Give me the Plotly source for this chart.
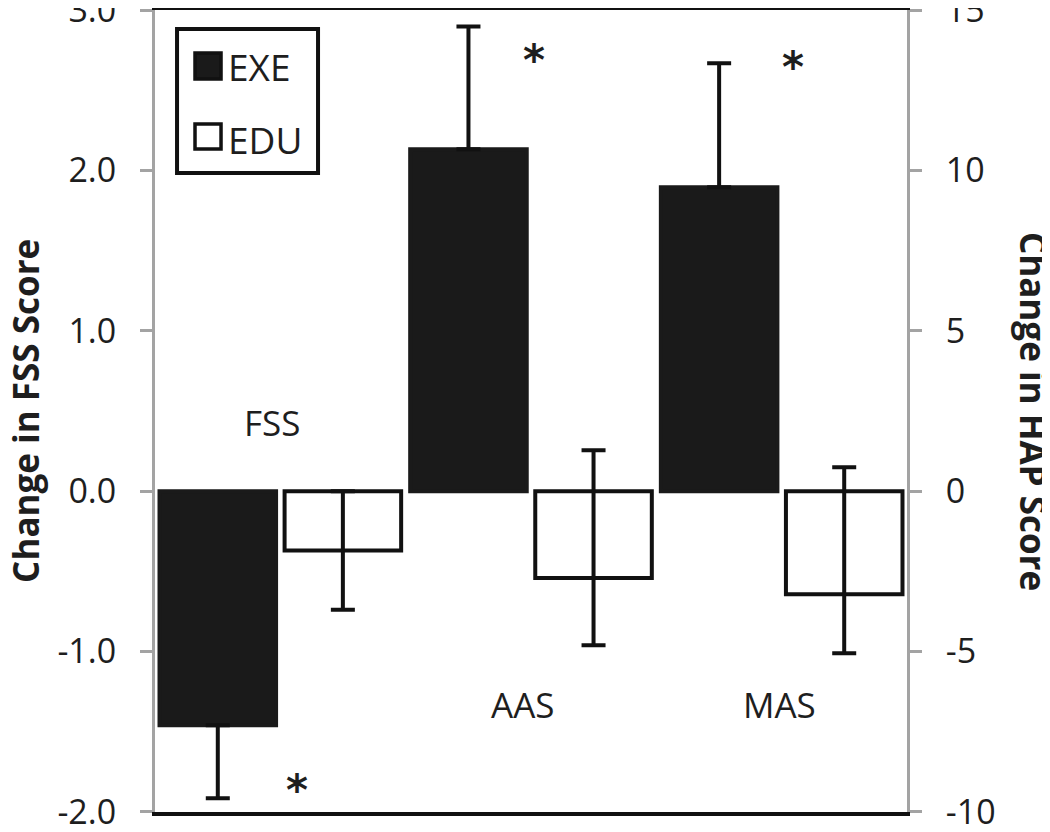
import plotly.graph_objects as go

# ---- data ----
categories = ["FSS", "AAS", "MAS"]
groups = ["EXE", "EDU"]

# FSS (left axis, Change in FSS Score)
fss_cat = ["FSS"]
fss_exe = [-1.46]
fss_exe_err_minus = [0.455]
fss_edu = [-0.37]
fss_edu_err = [0.37]

# HAP subscales (right axis, Change in HAP Score)
hap_cat = ["AAS", "MAS"]
hap_exe = [10.66, 9.48]
hap_exe_err_plus = [3.83, 3.86]
hap_edu = [-2.71, -3.21]
hap_edu_err_plus = [3.99, 3.96]
hap_edu_err_minus = [2.09, 1.84]

left_ticks = [-2, -1, 0, 1, 2, 3]
left_ticktext = ["-2.0", "-1.0", "0.0", "1.0", "2.0", "3.0"]
right_ticks = [-10, -5, 0, 5, 10, 15]
right_ticktext = ["-10", "-5", "0", "5", "10", "15"]

# ---- styling ----
EXE_FILL = "#1a1a1a"
EDU_FILL = "#ffffff"
EDGE = "#111111"
GREY = "#a3a3a3"
TXT = "#1e1e1e"
BAR_W = 0.465
OFF_EXE = -0.482
OFF_EDU = 0.017

fig = go.Figure()

def err(arr=None, arrminus=None, sym=False):
    d = dict(type="data", visible=True, color=EDGE, thickness=4, width=12)
    if sym:
        d.update(array=arr, symmetric=True)
    else:
        d.update(symmetric=False, array=arr if arr is not None else [0] * len(arrminus),
                 arrayminus=arrminus if arrminus is not None else [0] * len(arr))
    return d

fig.add_trace(go.Bar(x=fss_cat, y=fss_exe, yaxis="y", width=BAR_W, offset=OFF_EXE,
                     marker=dict(color=EXE_FILL, line=dict(color=EXE_FILL, width=4)),
                     error_y=err(arr=[0], arrminus=fss_exe_err_minus), showlegend=False, name="EXE"))
fig.add_trace(go.Bar(x=fss_cat, y=fss_edu, yaxis="y", width=BAR_W, offset=OFF_EDU,
                     marker=dict(color=EDU_FILL, line=dict(color=EDGE, width=4)),
                     error_y=err(arr=fss_edu_err, sym=True), showlegend=False, name="EDU"))
fig.add_trace(go.Bar(x=hap_cat, y=hap_exe, yaxis="y2", width=BAR_W, offset=OFF_EXE,
                     marker=dict(color=EXE_FILL, line=dict(color=EXE_FILL, width=4)),
                     error_y=err(arr=hap_exe_err_plus, arrminus=[0, 0]), showlegend=False, name="EXE"))
fig.add_trace(go.Bar(x=hap_cat, y=hap_edu, yaxis="y2", width=BAR_W, offset=OFF_EDU,
                     marker=dict(color=EDU_FILL, line=dict(color=EDGE, width=4)),
                     error_y=err(arr=hap_edu_err_plus, arrminus=hap_edu_err_minus), showlegend=False, name="EDU"))

# ---- legend box (drawn to match the large swatches of the reference) ----
fig.add_shape(type="rect", xref="paper", yref="paper", x0=0.0293, x1=0.2168, y0=0.7968, y1=0.9763,
              line=dict(color=EDGE, width=4), fillcolor="white", layer="above")
legend_rows = [(groups[0], EXE_FILL, 0.9140, 0.9464, 0.9277),
               (groups[1], EDU_FILL, 0.8267, 0.8579, 0.8379)]
for name, fill, sy0, sy1, ty in legend_rows:
    fig.add_shape(type="rect", xref="paper", yref="paper", x0=0.0532, x1=0.0878, y0=sy0, y1=sy1,
                  line=dict(color=EDGE, width=3.5), fillcolor=fill, layer="above")
    fig.add_annotation(x=0.0997, y=ty, xref="paper", yref="paper", text=name, showarrow=False,
                       xanchor="left", yanchor="middle", xshift=-4, yshift=1,
                       font=dict(family="Open Sans, sans-serif", size=37, color=TXT))

label_font = dict(family="Open Sans, sans-serif", size=35, color=TXT)
annos = [
    dict(x="FSS", y=0.41, yref="y", text="FSS", xshift=-8, yshift=3),
    dict(x="AAS", y=-6.73, yref="y2", text="AAS", xshift=-9, yshift=3),
    dict(x="MAS", y=-6.73, yref="y2", text="MAS", xshift=-2, yshift=3),
]
for a in annos:
    fig.add_annotation(xref="x", showarrow=False, font=label_font, **a)

star_font = dict(family="DejaVu Sans, sans-serif", size=42, color=TXT)
for x, y, yref in [(0.066, -1.833, "y"), (1.012, 13.59, "y2"), (2.045, 13.38, "y2")]:
    fig.add_annotation(x=x, y=y, xref="x", yref=yref, text="<b>*</b>", showarrow=False,
                       font=star_font, yshift=-5)

title_font = dict(family="Open Sans, sans-serif", size=35, color=TXT)
fig.add_annotation(x=-0.173, y=0.5, xref="paper", yref="paper", text="<b>Change in FSS Score</b>",
                   textangle=-90, showarrow=False, font=title_font,
                   xanchor="center", yanchor="middle")
fig.add_annotation(x=1.169, y=0.5, xref="paper", yref="paper", text="<b>Change in HAP Score</b>",
                   textangle=90, showarrow=False, font=title_font,
                   xanchor="center", yanchor="middle")

tick_font = dict(family="Open Sans, sans-serif", size=34, color=TXT)
common_y = dict(ticks="outside", ticklen=12, tickwidth=3, tickcolor=GREY,
                showline=True, linecolor=GREY, linewidth=3,
                ticklabeloverflow="allow", showgrid=False, zeroline=False,
                tickfont=tick_font, automargin=False)
# the page body adds an 8px offset; margins are set so the plot area sits at x 155-907, y 10-812
fig.update_layout(
    width=1050, height=832,
    margin=dict(l=147, r=151, t=2, b=28),
    paper_bgcolor="white", plot_bgcolor="white",
    barmode="overlay",
    showlegend=False,
    xaxis=dict(type="category", categoryorder="array", categoryarray=categories,
               range=[-0.5, 2.5], showticklabels=False, ticks="",
               showline=True, mirror=True, linecolor=EDGE, linewidth=4,
               showgrid=False, zeroline=False, fixedrange=True, automargin=False),
    yaxis=dict(range=[-2.0005, 3.0005], tickvals=left_ticks, ticktext=left_ticktext,
               ticklabelstandoff=17, **common_y),
    yaxis2=dict(range=[-10.0025, 15.0025], tickvals=right_ticks, ticktext=right_ticktext,
                overlaying="y", side="right", ticklabelstandoff=17, **common_y),
)

fig.write_html("out.html")
